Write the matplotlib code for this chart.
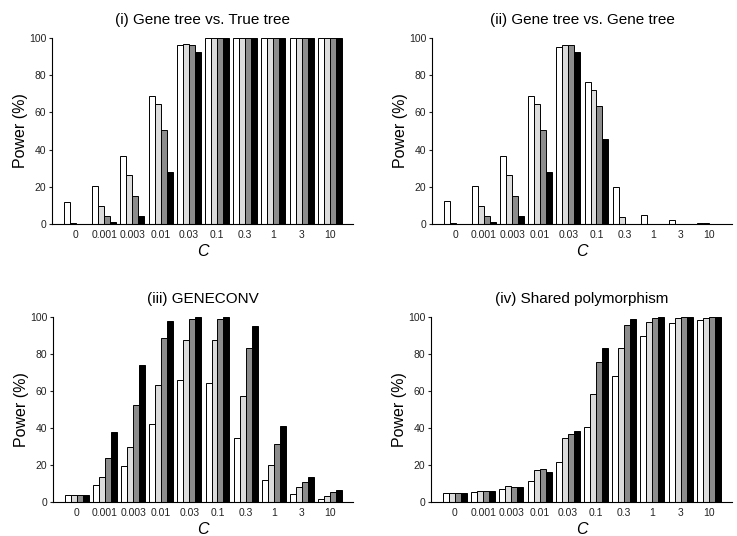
import numpy as np
import matplotlib
matplotlib.use("Agg")
import matplotlib.pyplot as plt

plt.rcParams['font.family'] = ['Liberation Sans', 'DejaVu Sans']

c_labels = ["0", "0.001", "0.003", "0.01", "0.03", "0.1", "0.3", "1", "3", "10"]

# power (%) for the four series in each C group
gene_vs_true = [
    [12, 0.7, 0, 0],
    [20.5, 9.5, 4.5, 1],
    [36.5, 26.5, 15, 4.5],
    [69, 64.5, 50.5, 28],
    [96.5, 96.8, 96, 92.5],
    [100, 100, 100, 100],
    [100, 100, 100, 100],
    [100, 100, 100, 100],
    [100, 100, 100, 100],
    [100, 100, 100, 100],
]
gene_vs_gene = [
    [12.5, 0.7, 0, 0],
    [20.5, 9.5, 4.5, 1],
    [36.5, 26.5, 15, 4.5],
    [69, 64.5, 50.5, 28],
    [95, 96.5, 96, 92.5],
    [76.5, 72, 63.5, 45.5],
    [20, 3.5, 0, 0],
    [5, 0, 0, 0],
    [2, 0, 0, 0],
    [0.4, 0.3, 0, 0],
]
geneconv = [
    [4, 4, 4, 4],
    [9, 13.5, 24, 38],
    [19.5, 30, 52.5, 74],
    [42, 63, 88.5, 98],
    [66, 87.5, 99, 100],
    [64.5, 87.5, 99, 100],
    [34.5, 57.5, 83.5, 95],
    [12, 20, 31.5, 41],
    [4.5, 8, 11, 13.5],
    [1.5, 3.5, 5.5, 6.5],
]
shared_poly = [
    [5, 5, 5, 5],
    [5.5, 6, 6, 5.8],
    [6.8, 8.5, 8.3, 8.2],
    [11.5, 17.5, 17.8, 16.2],
    [21.5, 34.5, 37, 38.5],
    [40.5, 58.5, 75.5, 83],
    [68, 83, 95.5, 99],
    [90, 97.5, 99.5, 100],
    [97, 99.5, 100, 100],
    [98.5, 99.5, 100, 100],
]

titles = ["(i) Gene tree vs. True tree", "(ii) Gene tree vs. Gene tree",
          "(iii) GENECONV", "(iv) Shared polymorphism"]
panels = [gene_vs_true, gene_vs_gene, geneconv, shared_poly]
bar_colors = ["white", "#dcdcdc", "#8c8c8c", "black"]

fig = plt.figure(figsize=(7.37, 5.36), dpi=100)
W, H = 737.0, 536.0
# axes boxes in pixels: left, top, right, bottom
boxes = [(52, 38, 353, 224), (432, 38, 732, 224),
         (53, 317, 353, 502), (431, 317, 732, 502)]

x = np.arange(len(c_labels))
w = 0.212
for box, vals, title in zip(boxes, panels, titles):
    l, t, r, b = box
    ax = fig.add_axes([l / W, 1 - b / H, (r - l) / W, (b - t) / H])
    vals = np.array(vals)
    for k in range(4):
        ax.bar(x + (k - 1.5) * w, vals[:, k], width=w, color=bar_colors[k],
               edgecolor="black", linewidth=0.7)
    ax.set_xlim(-0.85, 9.82)
    ax.set_ylim(0, 100)
    ax.set_yticks([0, 20, 40, 60, 80, 100])
    ax.set_xticks(x)
    ax.set_xticklabels(c_labels)
    ax.tick_params(axis="x", length=0, labelsize=7.5, pad=4, colors="#222222")
    ax.tick_params(axis="y", direction="out", length=2.5, width=0.8,
                   labelsize=7.5, pad=1.5, colors="#222222")
    for s in ["top", "right"]:
        ax.spines[s].set_visible(False)
    for s in ["left", "bottom"]:
        ax.spines[s].set_linewidth(0.8)
    ax.set_title(title, fontsize=11, pad=10)
    ax.set_ylabel("Power (%)", fontsize=11.5, labelpad=1)
    ax.set_xlabel("C", fontsize=11.5, style="italic", labelpad=3)

plt.savefig("out.png", dpi=100)
